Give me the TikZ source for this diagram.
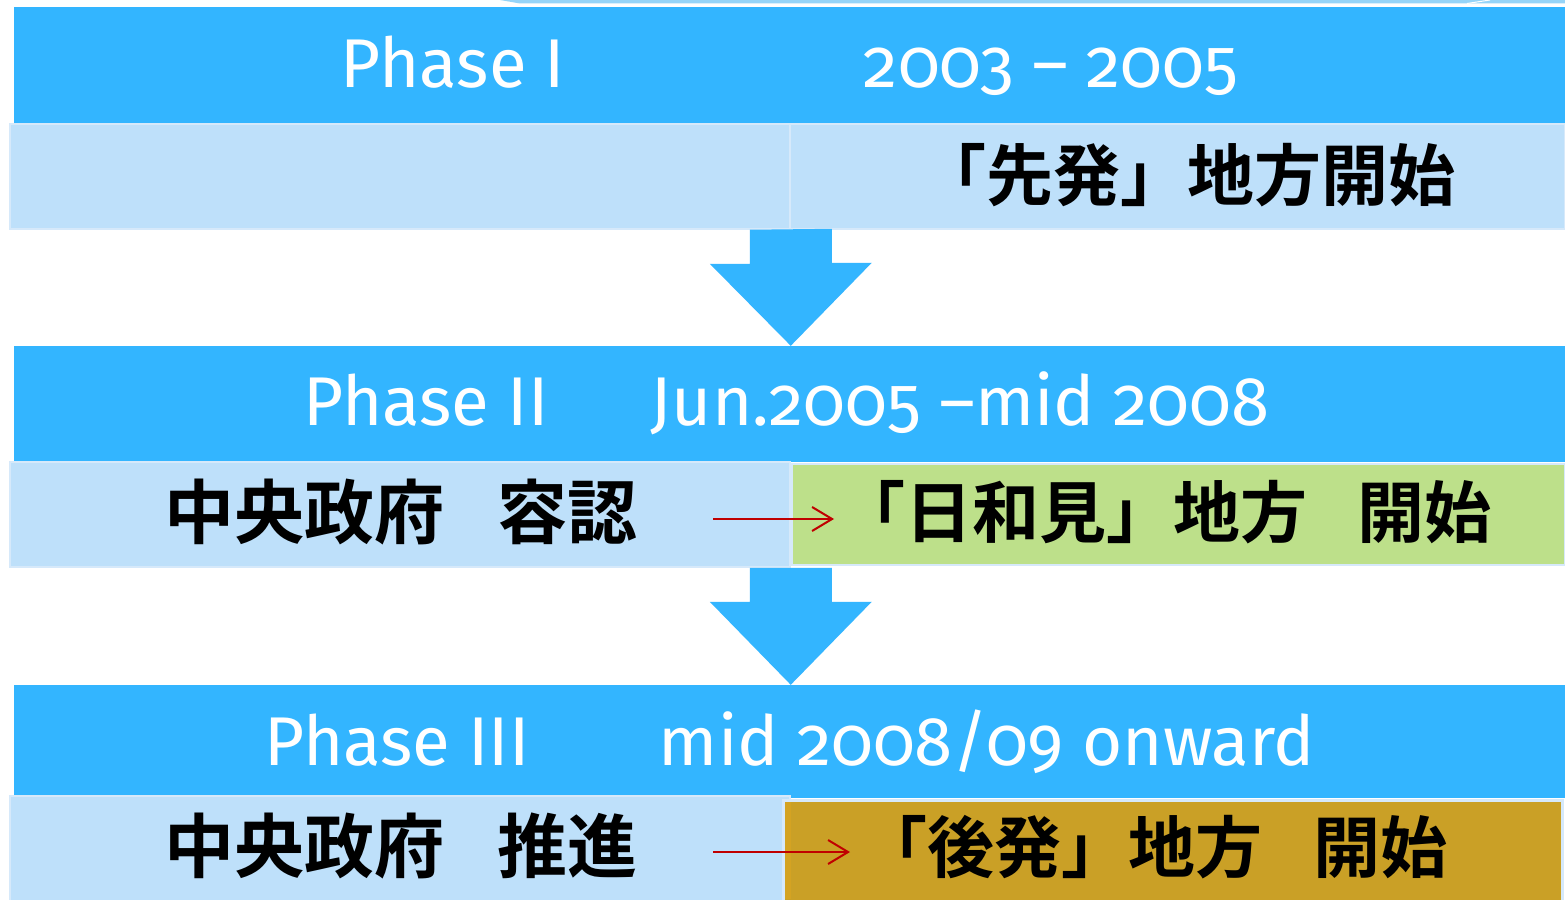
\documentclass[tikz,border=0pt]{standalone}
\usepackage{fontspec}
\setmainfont{Fira Sans}[Numbers=OldStyle]
\newfontfamily\cjk{Noto Sans CJK JP}[BoldFont={Noto Sans CJK JP Bold}]
\usetikzlibrary{arrows.meta,calc}
\definecolor{bandblue}{RGB}{51,181,255}
\definecolor{lightrow}{RGB}{190,224,250}
\definecolor{rowedge}{RGB}{214,233,250}
\definecolor{greenbox}{RGB}{189,224,138}
\definecolor{goldbox}{RGB}{202,160,38}
\definecolor{goldedge}{RGB}{212,163,34}
\definecolor{redline}{RGB}{192,0,0}
\definecolor{topfaint}{RGB}{150,212,248}
\tikzset{
  band/.style={fill=bandblue, draw=none, inner sep=0pt},
  rowbox/.style={fill=lightrow, draw=rowedge, line width=1.5pt, inner sep=0pt},
  phasetxt/.style={text=white, anchor=base, inner sep=0pt, font=\fontsize{69}{80}\selectfont},
  jtxt/.style={text=black, anchor=base, inner sep=0pt},
  blockarrow/.style={fill=bandblue, draw=none},
  redarrow/.style={draw=redline, line width=2pt, -{Straight Barb[length=20pt,width=24pt,line width=2pt]}}
}
\newcommand{\jbig}{\cjk\bfseries\fontsize{70}{80}\selectfont}
\newcommand{\jmid}{\cjk\bfseries\fontsize{67}{80}\selectfont}
\begin{document}
\begin{tikzpicture}[x=1pt,y=-1pt]
\useasboundingbox (0,0) rectangle (1565,899);
\fill[white] (0,0) rectangle (1565,899);
% faint shape at the top edge
\fill[topfaint] (500,0) -- (520,3.5) -- (1565,3.5) -- (1565,0) -- cycle;
\draw[white, line width=1pt] (1467,3.5) -- (1490,0);

% Phase I
\node[band, minimum width=1551pt, minimum height=117pt] (band1) at (789.5,65.5) {};
\node[rowbox, minimum width=780pt, minimum height=105pt] (row1L) at (400,176.5) {};
\node[rowbox, minimum width=775pt, minimum height=105pt] (row1R) at (1177.5,176.5) {};
\node[phasetxt] (p1) at (453,88) {Phase I};
\node[phasetxt] (d1) at (1051,88) {2003 – 2005};
\node[jtxt, font=\jmid] (t1) at (1187,200) {「先発」地方開始};

% Phase II
\node[band, minimum width=1551pt, minimum height=116pt] (band2) at (789.5,404) {};
\node[rowbox, minimum width=780pt, minimum height=105pt] (row2L) at (400,514.5) {};
\node[fill=greenbox, draw=rowedge, line width=1.5pt, inner sep=0pt, minimum width=773pt, minimum height=101pt] (row2R) at (1178.5,514.5) {};
\node[phasetxt] (p2) at (426,425) {Phase II};
\node[phasetxt] (d2) at (960,425) {Jun.2005 –mid 2008};
\node[jtxt, font=\jbig] (t2L) at (401,538) {中央政府\hspace{0.75em}容認};
\node[jtxt, font=\jmid] (t2R) at (1165,537) {「日和見」地方\hspace{0.75em}開始};
\coordinate (r2s) at (713,519);
\coordinate (r2e) at (834,519);
\draw[redarrow] (r2s) -- (r2e);

% Phase III
\node[band, minimum width=1551pt, minimum height=113pt] (band3) at (789.5,741.5) {};
\node[rowbox, minimum width=780pt, minimum height=106pt] (row3L) at (400,849) {};
\node[fill=goldbox, draw=rowedge, line width=3pt, inner sep=0pt, minimum width=779pt, minimum height=102pt] (row3R) at (1172.5,851) {};
\fill[goldedge] (784.5,802) rectangle (791,899);
\node[phasetxt] (p3) at (397,765) {Phase III};
\node[phasetxt] (d3) at (987,765) {mid 2008/09 onward};
\node[jtxt, font=\jbig] (t3L) at (401,872) {中央政府\hspace{0.75em}推進};
\node[jtxt, font=\jmid] (t3R) at (1154,872) {「後発」地方\hspace{0.75em}開始};
\coordinate (r3s) at (713,852);
\coordinate (r3e) at (850,852);
\draw[redarrow] (r3s) -- (r3e);

% block arrows between phases
\fill[blockarrow] (row1L.south east) ++(-41,0) -- ++(0,34) -- ++(-40,0)
  -- (row1L.south east |- band2.north) -- ++(81,-83) -- ++(-40,0) -- ++(0,-34) -- cycle;
\fill[blockarrow] (row2L.south east) ++(-41,0) -- ++(0,34) -- ++(-40,0)
  -- (row2L.south east |- band3.north) -- ++(81,-83) -- ++(-40,0) -- ++(0,-34) -- cycle;
\end{tikzpicture}
\end{document}
